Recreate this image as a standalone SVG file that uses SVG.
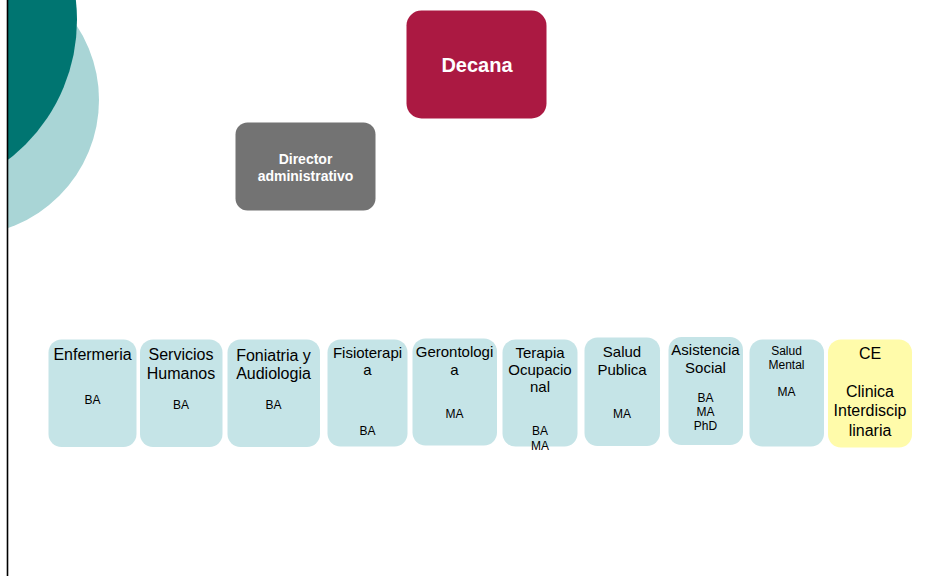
<svg xmlns="http://www.w3.org/2000/svg" width="952" height="576" viewBox="0 0 952 576">
<style>
.dept{fill:#C5E4E7}
.ce{fill:#FFFBAA}
.t{font-family:"Liberation Sans",Arial,sans-serif;text-anchor:middle;fill:#000}
.big{font-size:16px}
.mid{font-size:15px}
.sm{font-size:12px}
.wb{font-family:"Liberation Sans",Arial,sans-serif;text-anchor:middle;fill:#fff;font-weight:bold}
</style>
<rect width="952" height="576" fill="#fff"/>
<g id="decor">
<circle cx="-36.5" cy="100" r="135.5" fill="#A9D5D6"/>
<circle cx="-99.5" cy="20" r="176.5" fill="#007571"/>
<rect x="0" y="0" width="7" height="576" fill="#fff"/>
<line x1="7.5" y1="0" x2="7.5" y2="576" stroke="#000" stroke-width="1.6"/>
</g>
<g id="connectors"></g>
<g id="decana">
<rect x="406.5" y="10.5" width="140" height="108" rx="15" fill="#AB1942"/>
<text class="wb" x="477" y="72" font-size="20">Decana</text>
</g>
<g id="director">
<rect x="235.5" y="122.5" width="140" height="88" rx="12" fill="#737373"/>
<text class="wb" x="305.5" y="164" font-size="14">Director</text>
<text class="wb" x="305.5" y="181" font-size="14">administrativo</text>
</g>
<g id="enfermeria">
<rect class="dept" x="48.5" y="339.5" width="88" height="107.5" rx="13"/>
<text class="t big" x="92.5" y="360">Enfermeria</text>
<text class="t sm" x="92.5" y="404">BA</text>
</g>
<g id="servicios">
<rect class="dept" x="140" y="339.5" width="82.5" height="107.5" rx="13"/>
<text class="t big" x="181" y="360">Servicios</text>
<text class="t big" x="181" y="379">Humanos</text>
<text class="t sm" x="181" y="409">BA</text>
</g>
<g id="foniatria">
<rect class="dept" x="227.5" y="339.5" width="92.5" height="107.5" rx="13"/>
<text class="t big" x="273.5" y="360.5">Foniatria y</text>
<text class="t big" x="273.5" y="379">Audiologia</text>
<text class="t sm" x="273.5" y="409">BA</text>
</g>
<g id="fisioterapia">
<rect class="dept" x="327.5" y="339.5" width="80" height="107" rx="13"/>
<text class="t mid" x="367.5" y="357.5">Fisioterapi</text>
<text class="t mid" x="367.5" y="375">a</text>
<text class="t sm" x="367.5" y="434.5">BA</text>
</g>
<g id="gerontologia">
<rect class="dept" x="412.5" y="338.5" width="84.5" height="107" rx="13"/>
<text class="t mid" x="454.5" y="357">Gerontologi</text>
<text class="t mid" x="454.5" y="375">a</text>
<text class="t sm" x="454.5" y="418">MA</text>
</g>
<g id="terapia">
<rect class="dept" x="502.5" y="339.5" width="75" height="107" rx="13"/>
<text class="t mid" x="540" y="357.5">Terapia</text>
<text class="t mid" x="540" y="375">Ocupacio</text>
<text class="t mid" x="540" y="392">nal</text>
<text class="t sm" x="540" y="434.5">BA</text>
<text class="t sm" x="540" y="450">MA</text>
</g>
<g id="salud-publica">
<rect class="dept" x="584.5" y="337.5" width="75.5" height="108.5" rx="13"/>
<text class="t mid" x="622" y="357">Salud</text>
<text class="t mid" x="622" y="374.5">Publica</text>
<text class="t sm" x="622" y="418">MA</text>
</g>
<g id="asistencia">
<rect class="dept" x="668.5" y="337" width="74.5" height="108" rx="13"/>
<text class="t mid" x="705.5" y="355">Asistencia</text>
<text class="t mid" x="705.5" y="373">Social</text>
<text class="t sm" x="705.5" y="402">BA</text>
<text class="t sm" x="705.5" y="416">MA</text>
<text class="t sm" x="705.5" y="430">PhD</text>
</g>
<g id="salud-mental">
<rect class="dept" x="749.5" y="339.5" width="74.5" height="107" rx="13"/>
<text class="t sm" x="786.5" y="355">Salud</text>
<text class="t sm" x="786.5" y="368.5">Mental</text>
<text class="t sm" x="786.5" y="396">MA</text>
</g>
<g id="ce">
<rect class="ce" x="828" y="339.5" width="84" height="108" rx="13"/>
<text class="t big" x="870" y="358.5">CE</text>
<text class="t big" x="870" y="397">Clinica</text>
<text class="t big" x="870" y="416">Interdiscip</text>
<text class="t big" x="870" y="436">linaria</text>
</g>
</svg>
